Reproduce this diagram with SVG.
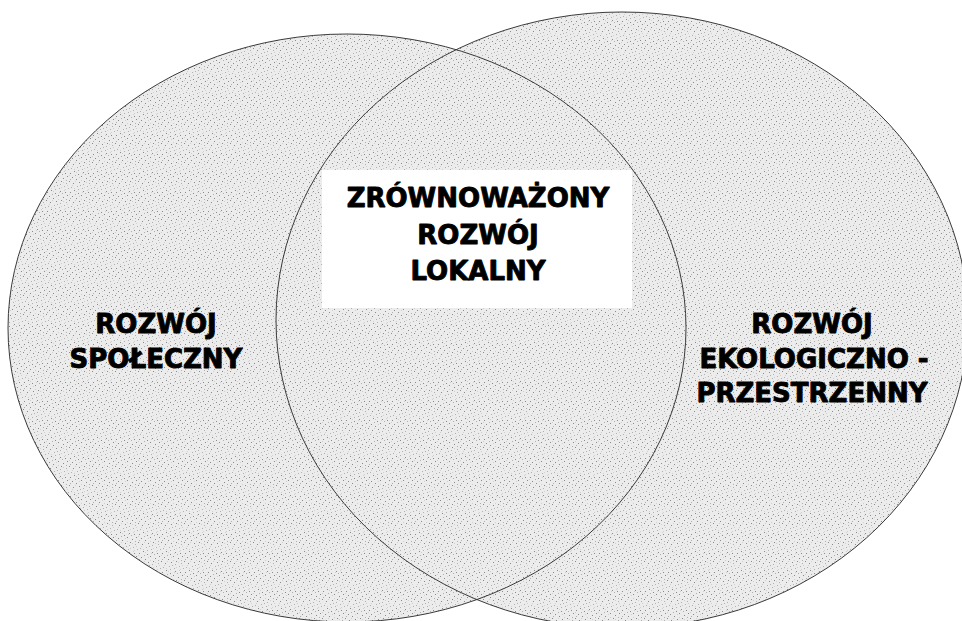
<svg xmlns="http://www.w3.org/2000/svg" width="962" height="621" viewBox="0 0 962 621">
<defs>
<pattern id="stipple" x="0" y="0" width="23" height="19" patternUnits="userSpaceOnUse">
<rect width="23" height="19" fill="#ececec"/>
<g shape-rendering="crispEdges">
<g fill="#8a8a8a">
<rect x="1" y="2" width="1" height="1"/><rect x="5" y="0" width="1" height="1"/><rect x="9" y="3" width="1" height="1"/><rect x="14" y="1" width="1" height="1"/><rect x="19" y="2" width="1" height="1"/><rect x="3" y="6" width="1" height="1"/><rect x="7" y="8" width="1" height="1"/><rect x="12" y="5" width="1" height="1"/><rect x="17" y="7" width="1" height="1"/><rect x="21" y="5" width="1" height="1"/><rect x="0" y="10" width="1" height="1"/><rect x="4" y="12" width="1" height="1"/><rect x="10" y="11" width="1" height="1"/><rect x="15" y="10" width="1" height="1"/>
</g>
<g fill="#b0b0b0">
<rect x="20" y="12" width="1" height="1"/><rect x="2" y="16" width="1" height="1"/><rect x="8" y="15" width="1" height="1"/><rect x="13" y="17" width="1" height="1"/><rect x="18" y="15" width="1" height="1"/><rect x="22" y="17" width="1" height="1"/><rect x="6" y="4" width="1" height="1"/><rect x="11" y="14" width="1" height="1"/><rect x="16" y="3" width="1" height="1"/><rect x="1" y="8" width="1" height="1"/><rect x="9" y="18" width="1" height="1"/><rect x="20" y="9" width="1" height="1"/><rect x="14" y="13" width="1" height="1"/>
</g>
<g fill="#d0d0d0">
<rect x="5" y="17" width="1" height="1"/><rect x="17" y="11" width="1" height="1"/><rect x="3" y="14" width="1" height="1"/><rect x="12" y="9" width="1" height="1"/><rect x="7" y="1" width="1" height="1"/><rect x="21" y="14" width="1" height="1"/><rect x="10" y="6" width="1" height="1"/><rect x="18" y="0" width="1" height="1"/><rect x="0" y="4" width="1" height="1"/><rect x="15" y="16" width="1" height="1"/><rect x="6" y="10" width="1" height="1"/><rect x="19" y="18" width="1" height="1"/><rect x="13" y="2" width="1" height="1"/>
</g>
</g>
</pattern>
</defs>
<style>
.fillshape{fill:url(#stipple);stroke:none}
.outline{fill:none;stroke:#3a3a3a;stroke-width:1}
.lbl{font-family:"DejaVu Sans","Verdana",sans-serif;font-weight:bold;font-size:26px;fill:#000;stroke:#000;stroke-width:0.9;stroke-linejoin:round;text-anchor:middle}
</style>
<rect width="962" height="621" fill="#ffffff"/>
<g id="node-social">
<ellipse class="fillshape" cx="347" cy="328" rx="339" ry="294"/>
</g>
<g id="node-eco">
<ellipse class="fillshape" cx="622" cy="320" rx="346" ry="308"/>
</g>
<g id="outlines">
<ellipse class="outline" cx="347" cy="328" rx="339" ry="294"/>
<ellipse class="outline" cx="622" cy="320" rx="346" ry="308"/>
</g>
<g id="connectors"/>
<g id="node-center">
<rect x="322" y="170" width="310" height="138" fill="#ffffff"/>
<text class="lbl" x="478" y="207">ZRÓWNOWAŻONY</text>
<text class="lbl" x="478" y="243.5">ROZWÓJ</text>
<text class="lbl" x="478" y="280">LOKALNY</text>
</g>
<g id="label-social">
<text class="lbl" x="156" y="333">ROZWÓJ</text>
<text class="lbl" x="156" y="368">SPOŁECZNY</text>
</g>
<g id="label-eco">
<text class="lbl" x="812" y="333">ROZWÓJ</text>
<text class="lbl" x="814" y="368">EKOLOGICZNO -</text>
<text class="lbl" x="812" y="402">PRZESTRZENNY</text>
</g>
</svg>
